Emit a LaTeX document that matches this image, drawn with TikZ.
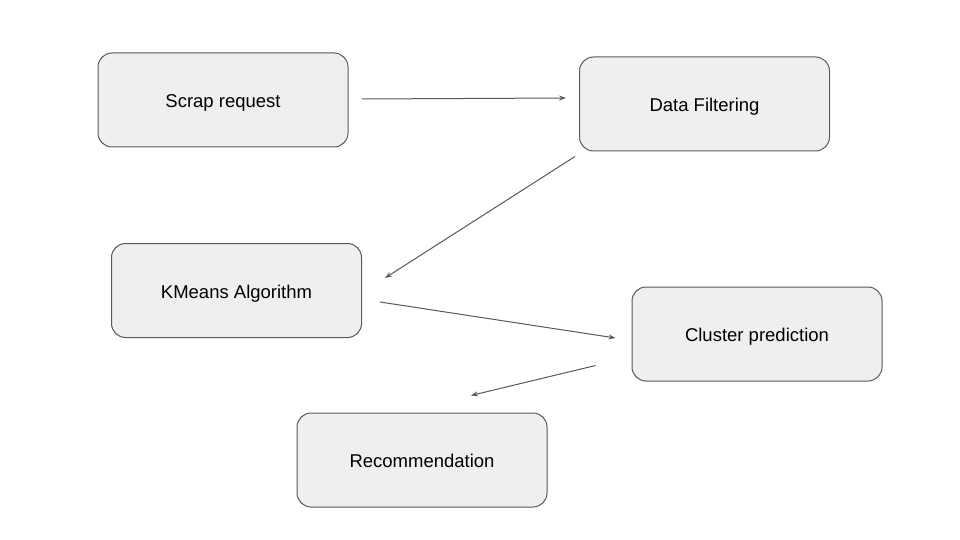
\documentclass[tikz,border=0pt]{standalone}
\usepackage{fontspec}
\setmainfont{Liberation Sans}
\usetikzlibrary{arrows.meta,calc}
\definecolor{boxfill}{HTML}{EFEFEF}
\definecolor{boxline}{HTML}{595959}
\definecolor{arrowcol}{HTML}{595959}
\tikzset{
  box/.style={draw=boxline, fill=boxfill, line width=1pt, rounded corners=14pt,
    minimum width=250pt, minimum height=94pt, inner sep=0pt,
    text height=15.5pt, text depth=0pt,
    font=\fontsize{18.5}{22}\selectfont},
  conn/.style={draw=arrowcol, line width=1pt, -{Stealth[length=7pt,width=5pt]}}
}
\begin{document}
\begin{tikzpicture}[x=1pt,y=-1pt]
\useasboundingbox (0,0) rectangle (960,540);
\fill[white] (0,0) rectangle (960,540);
\node[box] (scrap) at (223,100) {Scrap request};
\node[box] (filter) at (704.5,104) {Data Filtering};
\node[box] (kmeans) at (236.5,290.5) {KMeans Algorithm};
\node[box] (cluster) at (757,334) {Cluster prediction};
\node[box] (rec) at (422,460) {Recommendation};
\coordinate (a1) at ($(scrap.east)+(13,-1)$);
\coordinate (b1) at ($(filter.west)+(-13,-6)$);
\coordinate (a2) at ($(filter.south west)+(-4,5)$);
\coordinate (b2) at ($(kmeans.east)+(23,-12.5)$);
\coordinate (a3) at ($(kmeans.east)+(18,11.5)$);
\coordinate (b3) at ($(cluster.west)+(-16,4)$);
\coordinate (a4) at ($(cluster.south west)+(-36,-16)$);
\coordinate (b4) at ($(rec.north)+(49,-17)$);
\draw[conn] (a1) -- (b1);
\draw[conn] (a2) -- (b2);
\draw[conn] (a3) -- (b3);
\draw[conn] (a4) -- (b4);
\end{tikzpicture}
\end{document}
